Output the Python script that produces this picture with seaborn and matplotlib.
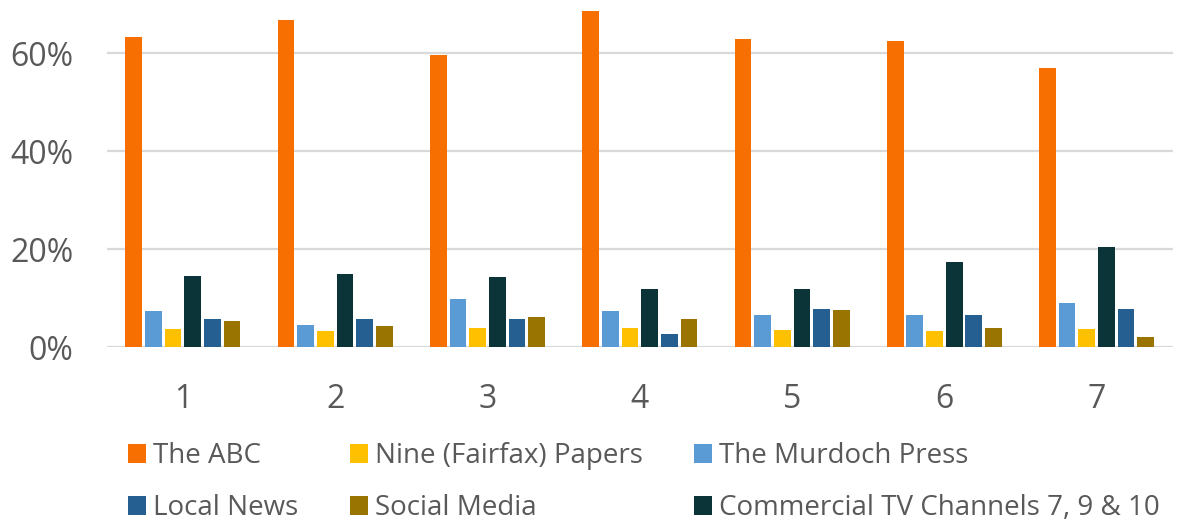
import numpy as np
import pandas as pd
import matplotlib
matplotlib.use("Agg")
import matplotlib.pyplot as plt
import seaborn as sns

groups = ["1", "2", "3", "4", "5", "6", "7"]

# bar order inside each group, as drawn
series = ["The ABC", "The Murdoch Press", "Nine (Fairfax) Papers",
          "Commercial TV Channels 7, 9 & 10", "Local News", "Social Media"]

abc = [63.2, 66.7, 59.6, 68.6, 62.9, 62.4, 56.9]
murdoch = [7.3, 4.6, 9.9, 7.3, 6.5, 6.5, 9.1]
nine = [3.6, 3.2, 4.0, 4.0, 3.4, 3.2, 3.8]
commercial = [14.5, 14.9, 14.3, 11.9, 11.9, 17.3, 20.4]
local = [5.8, 5.8, 5.8, 2.6, 7.8, 6.5, 7.8]
social = [5.3, 4.4, 6.1, 5.7, 7.5, 4.0, 2.0]

colors = ["#F76F00", "#5B9BD5", "#FFC000", "#0A3437", "#255E91", "#9A7400"]

# legend goes row by row: ABC, Nine, Murdoch / Local, Social, Commercial
legend_order = ["The ABC", "Local News", "Nine (Fairfax) Papers",
                "Social Media", "The Murdoch Press",
                "Commercial TV Channels 7, 9 & 10"]

values = [abc, murdoch, nine, commercial, local, social]
rows = []
for name, vals in zip(series, values):
    for g, v in zip(groups, vals):
        rows.append({"group": g, "series": name, "value": v})
df = pd.DataFrame(rows)

sns.set_style("white")
plt.rcParams["font.family"] = ["Open Sans", "DejaVu Sans"]
text_color = "#595959"

fig = plt.figure(figsize=(11.87, 5.22), dpi=100)
ax = fig.add_axes([0.090, 0.335, 0.898, 0.657])

sns.barplot(data=df, x="group", y="value", hue="series", hue_order=series,
            palette=colors, width=0.775, gap=0.15, ax=ax, legend=True,
            linewidth=0, saturation=1)

ax.set_ylim(0, 70)
ax.set_yticks([0, 20, 40, 60])
ax.set_yticklabels(["0%", "20%", "40%", "60%"])
ax.set_xlim(-0.5, 6.5)
ax.yaxis.grid(True, color="#D9D9D9", linewidth=1.6)
ax.set_axisbelow(True)
for s in ax.spines.values():
    s.set_visible(False)
ax.tick_params(axis="both", length=0, labelsize=23, labelcolor=text_color)
ax.tick_params(axis="x", pad=26)
ax.tick_params(axis="y", pad=24)
ax.set_xlabel("")
ax.set_ylabel("")

handles, labels = ax.get_legend_handles_labels()
ax.get_legend().remove()
lookup = dict(zip(labels, handles))
fig.legend([lookup[l] for l in legend_order], legend_order, ncol=3,
           loc="upper left", bbox_to_anchor=(0.108, 0.153), frameon=False,
           fontsize=20, labelcolor=text_color, handlelength=0.65,
           handleheight=0.72, handletextpad=0.25, columnspacing=1.85,
           labelspacing=0.87, borderpad=0, borderaxespad=0)

fig.savefig("out.png", dpi=100, facecolor="white")
